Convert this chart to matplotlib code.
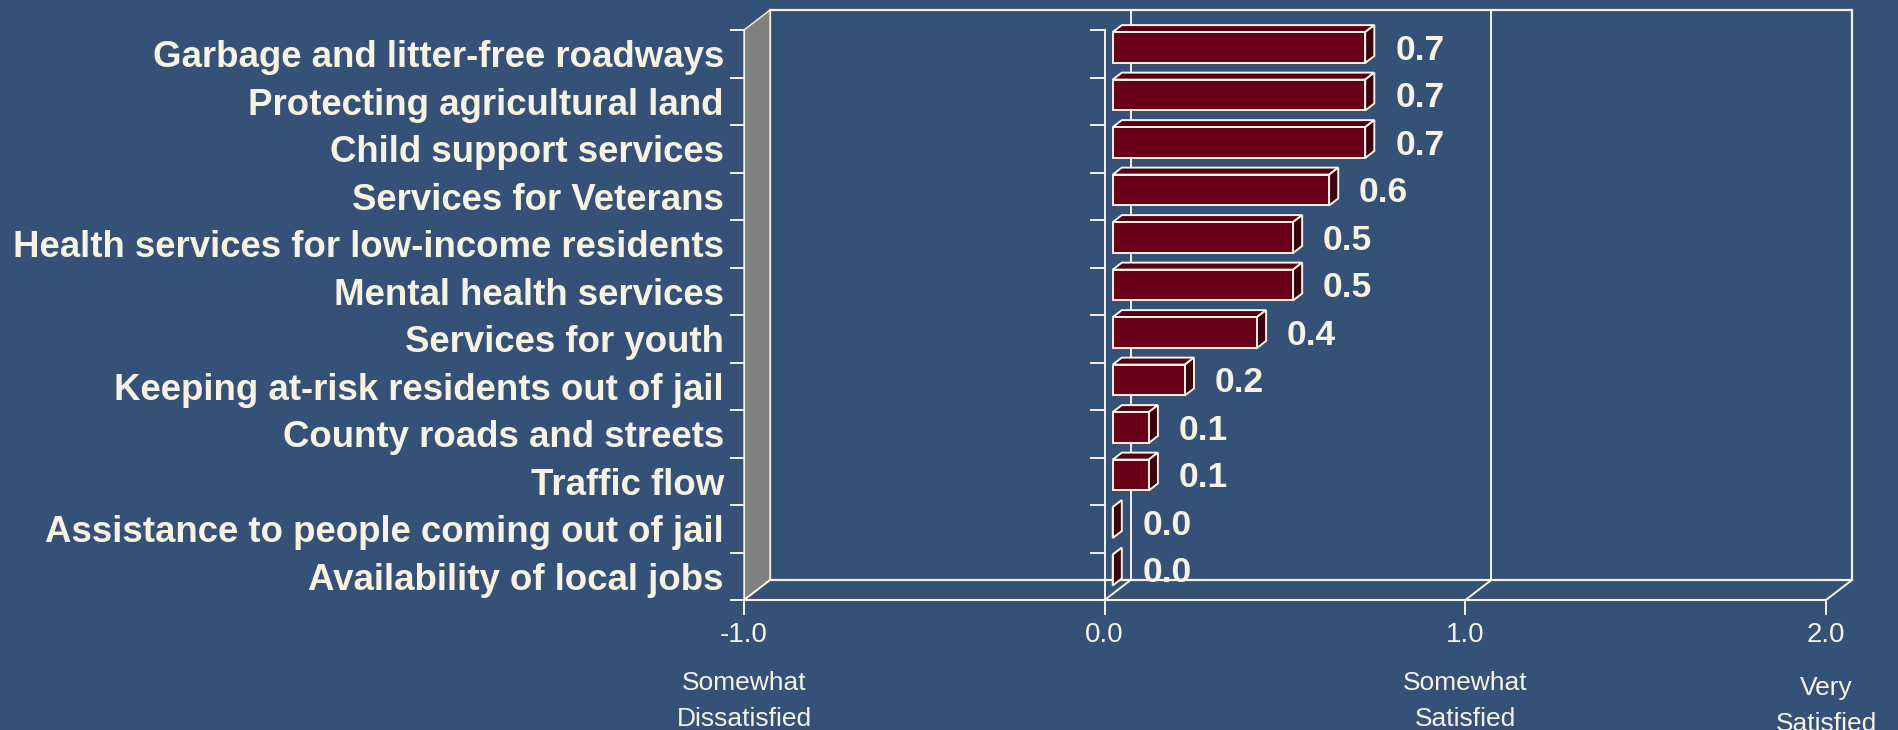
import numpy as np
import matplotlib
matplotlib.use("Agg")
import matplotlib.pyplot as plt
from matplotlib.patches import Polygon
from matplotlib.lines import Line2D
from matplotlib.transforms import IdentityTransform

categories = [
    "Garbage and litter-free roadways",
    "Protecting agricultural land",
    "Child support services",
    "Services for Veterans",
    "Health services for low-income residents",
    "Mental health services",
    "Services for youth",
    "Keeping at-risk residents out of jail",
    "County roads and streets",
    "Traffic flow",
    "Assistance to people coming out of jail",
    "Availability of local jobs",
]
scores = [0.7, 0.7, 0.7, 0.6, 0.5, 0.5, 0.4, 0.2, 0.1, 0.1, 0.0, 0.0]

xticks = [-1.0, 0.0, 1.0, 2.0]
xtick_labels = ["-1.0", "0.0", "1.0", "2.0"]

note_pos = [-1.0, 1.0, 2.0]
note_text = ["Somewhat\nDissatisfied", "Somewhat\nSatisfied", "Very\nSatisfied"]

BG = "#365177"
INK = "#F6F3E3"
WALL = "#808080"
BAR_FRONT = "#6B0019"
BAR_TOP = "#560014"
BAR_SIDE = "#3C000E"

DEPTH = np.array([26.0, 20.0])   # pixel shift of the back wall
BAR_Z = (0.31, 0.66)             # bar front / back depth
BAR_H = 0.65

plt.rcParams["font.family"] = ["Liberation Sans", "DejaVu Sans"]

fig = plt.figure(figsize=(18.98, 7.30), dpi=100, facecolor=BG)
ax = fig.add_axes([744 / 1898, 130 / 730, 1082 / 1898, 570 / 730])
ax.set_facecolor("none")

n = len(categories)
ax.set_xlim(-1, 2)
ax.set_ylim(n - 0.5, -0.5)

for side in ("top", "right"):
    ax.spines[side].set_visible(False)
ax.spines["bottom"].set_color(INK)
ax.spines["bottom"].set_linewidth(1.5)
ax.spines["left"].set_color(INK)
ax.spines["left"].set_linewidth(0.8)

ax.set_xticks(xticks, xtick_labels)
ax.tick_params(axis="x", length=10.8, width=1.4, color=INK, labelcolor=INK,
               labelsize=20, pad=5)
ax.set_yticks(range(n), categories, fontweight="bold")
ax.set_yticks(np.arange(n + 1) - 0.5, minor=True)
ax.tick_params(axis="y", which="major", length=0, pad=14.4,
               labelsize=26.4, labelcolor=INK)
ax.tick_params(axis="y", which="minor", length=10, width=1.4, color=INK)


def P(x, y, z=0.0):
    return ax.transData.transform((x, y)) + z * DEPTH


def poly(pts, face, lw=1.4, zorder=2):
    ax.add_artist(Polygon(pts, closed=True, facecolor=face, edgecolor=INK,
                          lw=lw, joinstyle="miter", transform=IdentityTransform(),
                          clip_on=False, zorder=zorder))


def seg(a, b, lw=1.4, zorder=2):
    ax.add_artist(Line2D([a[0], b[0]], [a[1], b[1]], color=INK, lw=lw,
                         transform=IdentityTransform(), clip_on=False,
                         zorder=zorder))


top, bottom = -0.5, n - 0.5

# back wall and its gridlines
poly([P(-1, top, 1), P(2, top, 1), P(2, bottom, 1), P(-1, bottom, 1)],
     "none", lw=1.6, zorder=1)
for x in xticks[1:-1]:
    seg(P(x, top, 1), P(x, bottom, 1), zorder=1)

# grey side wall
poly([P(-1, top, 0), P(-1, top, 1), P(-1, bottom, 1), P(-1, bottom, 0)],
     WALL, lw=1.0, zorder=1.5)

# floor edges
for x in xticks:
    seg(P(x, bottom, 0), P(x, bottom, 1), zorder=1.6)

# category axis crossing at zero
seg(P(0, top), P(0, bottom), zorder=1.6)
for b in np.arange(n + 1) - 0.5:
    p = P(0, b)
    seg(p - np.array([14, 0]), p, zorder=1.6)

# 3-d bars
zf, zb = BAR_Z
for i, v in enumerate(scores):
    y0, y1 = i - BAR_H / 2, i + BAR_H / 2
    poly([P(0, y0, zf), P(v, y0, zf), P(v, y0, zb), P(0, y0, zb)], BAR_TOP)
    poly([P(v, y0, zf), P(v, y1, zf), P(v, y1, zb), P(v, y0, zb)], BAR_SIDE)
    poly([P(0, y0, zf), P(v, y0, zf), P(v, y1, zf), P(0, y1, zf)], BAR_FRONT)
    ax.annotate(f"{v:.1f}", xy=(v, i), xytext=((8 + 30) * 0.72, 3.5 * 0.72),
                textcoords="offset points", ha="left", va="center",
                fontsize=25.5, fontweight="bold", color=INK,
                annotation_clip=False)

# scale anchors under the value axis
for x, t in zip(note_pos, note_text):
    dy = -106 if x == 2.0 else -101
    ax.annotate(t, xy=(x, bottom), xytext=(0, dy * 0.72),
                textcoords="offset points", ha="center", va="center",
                fontsize=19, color=INK, linespacing=1.6,
                annotation_clip=False)

fig.savefig("out.png", dpi=100, facecolor=BG)
